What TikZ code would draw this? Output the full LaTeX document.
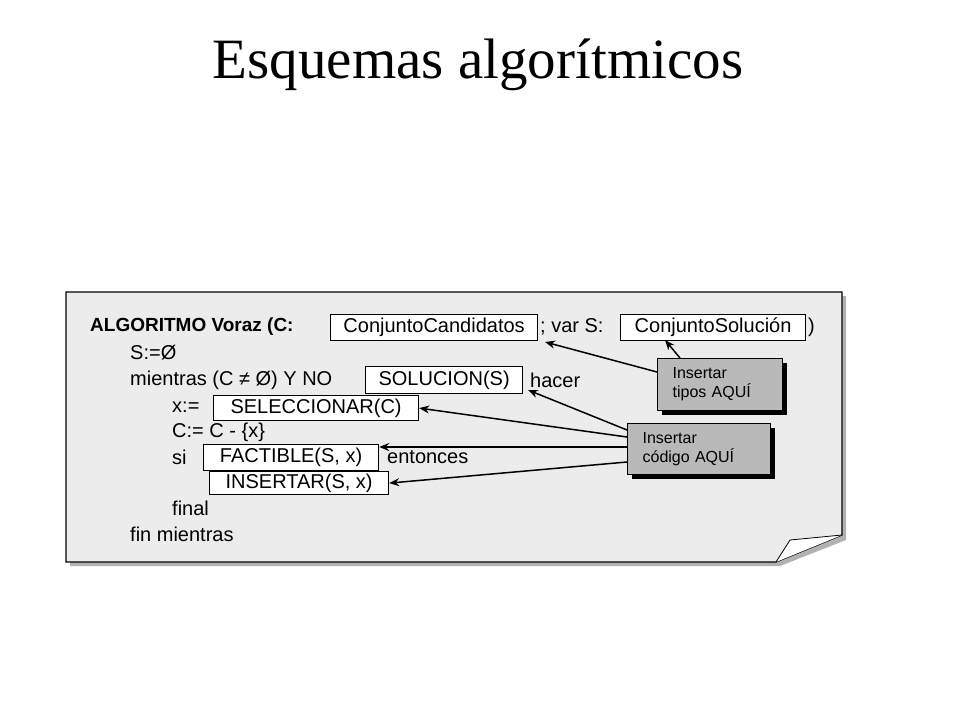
\documentclass[tikz,border=0pt]{standalone}
\usepackage{fontspec}
\setmainfont{Liberation Serif}
\newfontfamily\arial{Liberation Sans}
\usetikzlibrary{arrows.meta}
\begin{document}
\begin{tikzpicture}[x=1pt,y=-1pt,
  code/.style={anchor=west,inner sep=0pt,font=\arial\fontsize{20}{22}\selectfont},
  slot/.style={draw,line width=1.2pt,fill=white,inner sep=0pt,anchor=north west,font=\arial\fontsize{20}{22}\selectfont},
  note/.style={draw,line width=1.2pt,fill=gray!55,anchor=north west,align=left,inner sep=0pt,font=\arial\fontsize{16}{19}\selectfont},
  arr/.style={-{Stealth[length=10pt,width=8pt]},line width=1.5pt}]
\useasboundingbox (0,0) rectangle (960,720);
\node[font=\fontsize{57}{60}\selectfont] (title) at (478,65) {Esquemas algorítmicos};
% page with shadow
\fill[gray!60] (70,296) -- (846,296) -- (846,540) -- (780,566) -- (70,566) -- cycle;
\draw[line width=1.2pt,fill=gray!15] (66,292) -- (842,292) -- (842,535) -- (776,562) -- (66,562) -- cycle;
\draw[line width=0.8pt,fill=white] (776,562) -- (790,540) -- (842,535);
% code lines
\node[code,font=\arial\bfseries\fontsize{19}{22}\selectfont] (l1) at (90,327) {ALGORITMO Voraz (C:};
\node[slot,minimum width=207,minimum height=26] (cc) at (330,314) {ConjuntoCandidatos};
\node[code] (l1b) at (540,327) {; var S:};
\node[slot,minimum width=185,minimum height=26] (cs) at (620,314) {ConjuntoSolución};
\node[code] (l1c) at (808,327) {)};
\node[code] (l2) at (130,353) {S:=Ø};
\node[code] (l3) at (130,380) {mientras (C ≠ Ø) Y NO};
\node[slot,minimum width=157,minimum height=27] (sol) at (365,366) {SOLUCION(S)};
\node[code] (l3b) at (530,380) {hacer};
\node[code] (l4) at (172,407) {x:=};
\node[slot,minimum width=205,minimum height=25] (sel) at (213,395) {SELECCIONAR(C)};
\node[code] (l5) at (172,432) {C:= C - \{x\}};
\node[code] (l6) at (172,457) {si};
\node[slot,minimum width=175,minimum height=26] (fac) at (203,444) {FACTIBLE(S, x)};
\node[code] (l6b) at (387,457) {entonces};
\node[slot,minimum width=179,minimum height=23] (ins) at (209,471) {INSERTAR(S, x)};
\node[code] (l7) at (172,508) {final};
\node[code] (l8) at (130,534) {fin mientras};
% notes
\fill[black] (662,363) rectangle (787,415);
\node[note,minimum width=125,minimum height=52,text width=115] (nt) at (657,358) {\hspace*{10pt}Insertar\\\hspace*{10pt}tipos AQUÍ};
\fill[black] (632,428) rectangle (775,479);
\node[note,minimum width=143,minimum height=51,text width=133] (nc) at (627,423) {\hspace*{10pt}Insertar\\\hspace*{10pt}código AQUÍ};
\coordinate (a1) at (545,342);
\coordinate (a2) at (665,340);
\coordinate (a3) at (528,390);
\draw[arr] (nt.west |- 0,372) -- (a1);
\draw[arr] (nt.north west -| 680,0) -- (a2);
\draw[arr] (nc.west |- 0,430) -- (a3);
\draw[arr] (nc.west |- 0,437) -- (sel.east);
\draw[arr] (nc.west |- 0,447) -- (fac.east |- 0,447);
\draw[arr] (nc.west |- 0,462) -- (ins.east);
\end{tikzpicture}
\end{document}
